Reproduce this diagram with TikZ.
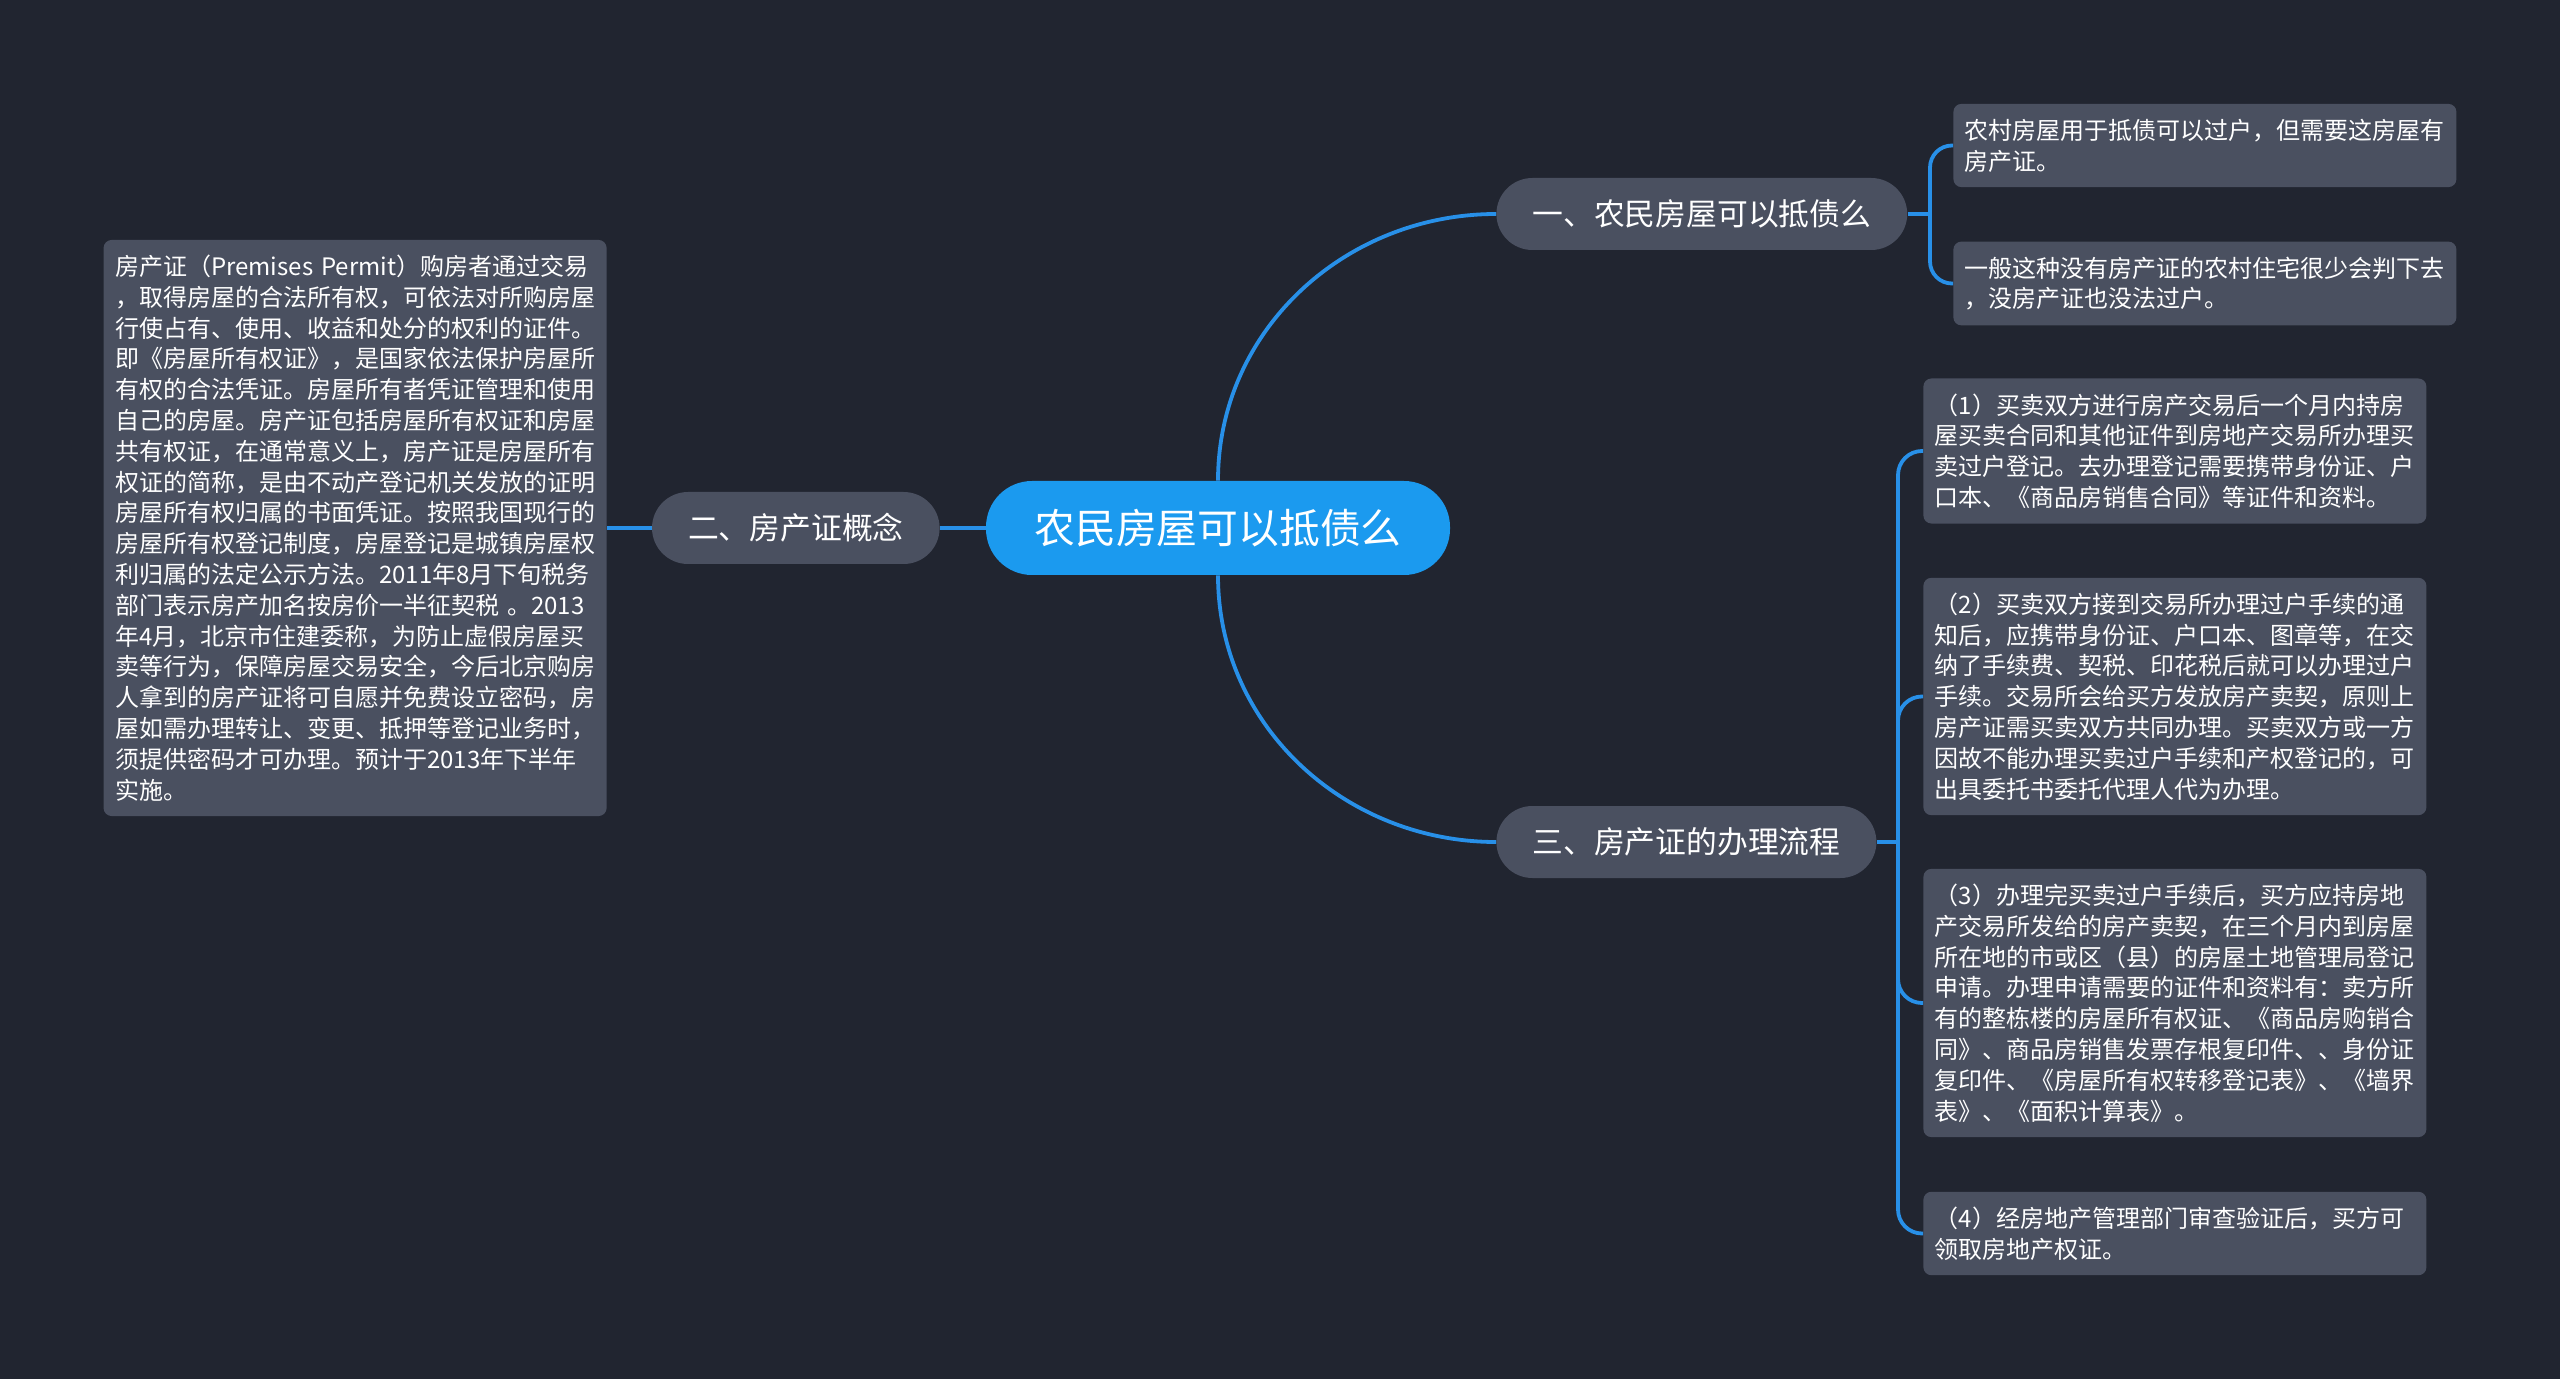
\documentclass[tikz,border=0pt]{standalone}
\usepackage{fontspec}
\usepackage{tikz}
\usepackage{xcolor}
\newfontfamily\cjk{Noto Sans CJK SC}
\definecolor{bgdark}{RGB}{33,37,48}
\definecolor{nodegray}{RGB}{74,80,96}
\definecolor{rootblue}{RGB}{27,154,239}
\definecolor{linkblue}{RGB}{40,144,232}
\tikzstyle{rootbox} = [rectangle, rounded corners=23pt, fill=rootblue, text=white, minimum width=232pt,
minimum height=47pt, font=\cjk\fontsize{20.4}{24}\selectfont]
\tikzstyle{topicbox} = [rectangle, rounded corners=18pt, fill=nodegray, text=white, minimum height=36pt,
inner xsep=18pt, font=\cjk\fontsize{15.4}{18}\selectfont]
\tikzstyle{notebox} = [rectangle, rounded corners=4pt, fill=nodegray, text=white, text width=240pt,
align=left, inner xsep=5.75pt, inner ysep=7.5pt, font=\cjk\fontsize{12}{15.4}\selectfont]
\tikzstyle{link} = [line width=1.9pt, draw=linkblue]

\begin{document}
\begin{tikzpicture}[x=0.5pt, y=-0.5pt]
        \useasboundingbox (0,0) rectangle (2560,1379);
        \fill[bgdark] (0,0) rectangle (2560,1379);

        \node[rootbox] (root) at (1218,528) {农民房屋可以抵债么};
        \node[topicbox, anchor=west] (sec1) at (1496,214) {一、农民房屋可以抵债么};
        \node[topicbox, anchor=east] (sec2) at (940,528) {二、房产证概念};
        \node[topicbox, anchor=west] (sec3) at (1496,842) {三、房产证的办理流程};

        \node[notebox, anchor=east] (def) at (607,528) {房产证（Premises~Permit）购房者通过交易\\，取得房屋的合法所有权，可依法对所购房屋\\行使占有、使用、收益和处分的权利的证件。\\即《房屋所有权证》，是国家依法保护房屋所\\有权的合法凭证。房屋所有者凭证管理和使用\\自己的房屋。房产证包括房屋所有权证和房屋\\共有权证，在通常意义上，房产证是房屋所有\\权证的简称，是由不动产登记机关发放的证明\\房屋所有权归属的书面凭证。按照我国现行的\\房屋所有权登记制度，房屋登记是城镇房屋权\\利归属的法定公示方法。2011年8月下旬税务\\部门表示房产加名按房价一半征契税~。2013\\年4月，北京市住建委称，为防止虚假房屋买\\卖等行为，保障房屋交易安全，今后北京购房\\人拿到的房产证将可自愿并免费设立密码，房\\屋如需办理转让、变更、抵押等登记业务时，\\须提供密码才可办理。预计于2013年下半年\\实施。};

        \node[notebox, anchor=west] (n1) at (1953,145.5) {农村房屋用于抵债可以过户，但需要这房屋有\\房产证。};
        \node[notebox, anchor=west] (n2) at (1953,283.5) {一般这种没有房产证的农村住宅很少会判下去\\，没房产证也没法过户。};

        \node[notebox, anchor=west] (s1) at (1923,451) {（1）买卖双方进行房产交易后一个月内持房\\屋买卖合同和其他证件到房地产交易所办理买\\卖过户登记。去办理登记需要携带身份证、户\\口本、《商品房销售合同》等证件和资料。};
        \node[notebox, anchor=west] (s2) at (1923,696.5) {（2）买卖双方接到交易所办理过户手续的通\\知后，应携带身份证、户口本、图章等，在交\\纳了手续费、契税、印花税后就可以办理过户\\手续。交易所会给买方发放房产卖契，原则上\\房产证需买卖双方共同办理。买卖双方或一方\\因故不能办理买卖过户手续和产权登记的，可\\出具委托书委托代理人代为办理。};
        \node[notebox, anchor=west] (s3) at (1923,1003) {（3）办理完买卖过户手续后，买方应持房地\\产交易所发给的房产卖契，在三个月内到房屋\\所在地的市或区（县）的房屋土地管理局登记\\申请。办理申请需要的证件和资料有：卖方所\\有的整栋楼的房屋所有权证、《商品房购销合\\同》、商品房销售发票存根复印件、、身份证\\复印件、《房屋所有权转移登记表》、《墙界\\表》、《面积计算表》。};
        \node[notebox, anchor=west] (s4) at (1923,1233.5) {（4）经房地产管理部门审查验证后，买方可\\领取房地产权证。};

        \coordinate (j1) at (1930,214);
        \coordinate (j3) at (1898,842);

        \draw[link] (root.north) to[out=90, in=180] (sec1.west);
        \draw[link] (root.south) to[out=-90, in=180] (sec3.west);
        \draw[link] (root.west) -- (sec2.east);
        \draw[link] (sec2.west) -- (def.east);
        \draw[link] (sec1.east) -- (j1);
        \draw[link] (sec3.east) -- (j3);
        \foreach \n in {n1,n2} \draw[link, rounded corners=11pt] (j1) |- (\n.west);
        \foreach \n in {s1,s2,s3,s4} \draw[link, rounded corners=12pt] (j3) |- (\n.west);

    \end{tikzpicture}
\end{document}
